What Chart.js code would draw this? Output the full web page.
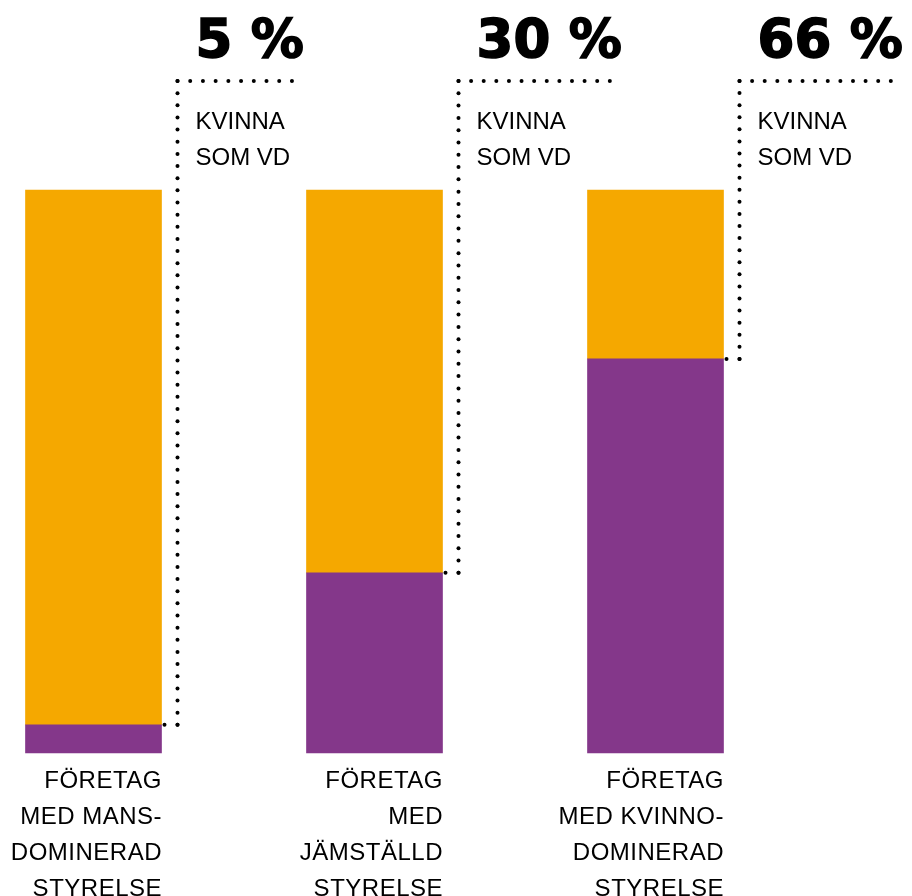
<!DOCTYPE html>
<html lang="sv">
<head>
<meta charset="utf-8">
<title>Kvinna som VD</title>
<script src="https://cdn.jsdelivr.net/npm/chart.js@4/dist/chart.umd.min.js"></script>
<style>
  html, body { margin: 0; padding: 0; background: #fff; }
  .chart-wrap { position: relative; width: 912px; height: 896px; }
</style>
</head>
<body>
<div class="chart-wrap"><canvas id="vd-chart"></canvas></div>
<script>
// data
var categories = ['mans', 'jamstalld', 'kvinno'];
var categoryLines = [
  ['FÖRETAG', 'MED MANS-', 'DOMINERAD', 'STYRELSE'],
  ['FÖRETAG', 'MED', 'JÄMSTÄLLD', 'STYRELSE'],
  ['FÖRETAG', 'MED KVINNO-', 'DOMINERAD', 'STYRELSE']
];
var womanCeo = [5, 32, 70];
var restShare = [95, 68, 30];
var percentLabels = ['5 %', '30 %', '66 %'];
var noteLines = ['KVINNA', 'SOM VD'];

(function() {
  var purple = '#84378a';
  var orange = '#f5a800';

  // --draw a row of round dots between two points
  function dotLine(ctx, x1, y1, x2, y2, gap) {
    var len = Math.sqrt((x2 - x1) * (x2 - x1) + (y2 - y1) * (y2 - y1));
    var n = Math.max(1, Math.round(len / gap));
    for(var i = 0; i <= n; i++) {
      ctx.beginPath();
      ctx.arc(x1 + (x2 - x1) * i / n, y1 + (y2 - y1) * i / n, 2, 0, Math.PI * 2);
      ctx.fill();
    }
  };

  // --labels and dotted leaders
  var annotations = {
    id: 'annotations',
    afterDatasetsDraw: function(chart) {
      var ctx = chart.ctx;
      var meta = chart.getDatasetMeta(0);
      ctx.save();
      ctx.fillStyle = '#000';
      ctx.strokeStyle = '#000';
      meta.data.forEach(function(bar, i) {
        var right = bar.x + bar.width / 2;
        var vx = right + 16;
        var textX = vx + 18;

        ctx.font = 'bold 53px "DejaVu Sans"';
        ctx.textAlign = 'left';
        ctx.textBaseline = 'alphabetic';
        ctx.lineWidth = 1.6;
        var w = ctx.measureText(percentLabels[i]).width;
        ctx.fillText(percentLabels[i], textX, 57);
        ctx.strokeText(percentLabels[i], textX, 57);

        dotLine(ctx, right + 3, bar.y, vx, bar.y, 12);
        dotLine(ctx, vx, bar.y, vx, 81, 12.2);
        dotLine(ctx, vx, 81, textX + w - 12, 81, 12.4);

        ctx.font = '24px "Liberation Sans"';
        noteLines.forEach(function(line, k) {
          ctx.fillText(line, textX, 129 + k * 36);
        });

        ctx.textAlign = 'right';
        ctx.letterSpacing = '0.5px';
        categoryLines[i].forEach(function(line, k) {
          ctx.fillText(line, right + 0.5, 788 + k * 36);
        });
        ctx.letterSpacing = '0px';
      });
      ctx.restore();
    }
  };

  var el = document.getElementById('vd-chart');
  if(el) {
    new Chart(el, {
      type: 'bar',
      data: {
        labels: categories,
        datasets: [
          {data: womanCeo, backgroundColor: purple, barThickness: 136, clip: false},
          {data: restShare, backgroundColor: orange, barThickness: 136, clip: false}
        ]
      },
      options: {
        responsive: true,
        maintainAspectRatio: false,
        animation: false,
        layout: {
          padding: {top: 190, bottom: 143, left: 93.5, right: 256.5}
        },
        scales: {
          x: {stacked: true, offset: false, display: false},
          y: {stacked: true, min: 0, max: 100, display: false}
        },
        plugins: {
          legend: {display: false},
          tooltip: {enabled: false}
        }
      },
      plugins: [annotations]
    });
  }
}());
</script>
</body>
</html>
